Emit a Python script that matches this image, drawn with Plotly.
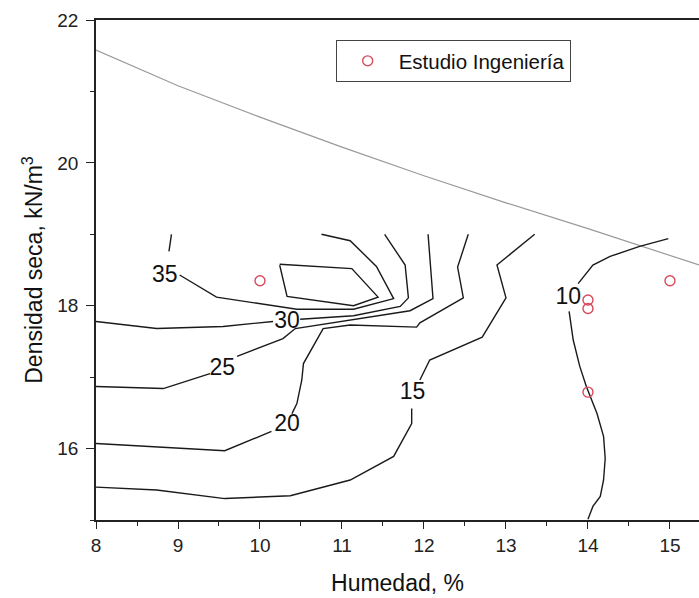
import plotly.graph_objects as go

# ---- data ----
sat_x = [8.0, 9.0, 10.0, 11.0, 12.0, 13.0, 14.0, 14.39, 15.354]
sat_y = [21.58, 21.08, 20.64, 20.22, 19.82, 19.44, 19.08, 18.93, 18.57]

c40_x = [10.24, 10.33, 11.14, 11.44, 11.12, 10.24]
c40_y = [18.57, 18.13, 18.00, 18.12, 18.52, 18.58]

c35_x = [8.92, 8.89, None, 9.02, 9.47, 10.45, 11.14, 11.63, 11.42, 11.10, 10.75]
c35_y = [19.00, 18.76, None, 18.43, 18.12, 17.95, 17.95, 18.10, 18.55, 18.91, 19.00]

c30_x = [8.0, 8.74, 9.55, 10.16, None, 10.49, 11.14, 11.71, 11.81, 11.77, 11.52]
c30_y = [17.78, 17.68, 17.71, 17.78, None, 17.81, 17.86, 17.99, 18.11, 18.57, 19.00]

c25_x = [8.0, 8.82, 9.39, None, 9.72, 10.28, 10.43, 11.10, 11.83, 12.11, 12.05]
c25_y = [16.87, 16.84, 17.05, None, 17.29, 17.54, 17.68, 17.80, 17.93, 18.10, 19.00]

c20_x = [12.54, 12.41, 12.48, 11.95, 11.91, 11.10, 10.77, 10.53, 10.51, 10.45, 10.39, None, 10.14, 9.57, 8.0]
c20_y = [19.00, 18.54, 18.11, 17.76, 17.70, 17.73, 17.68, 17.19, 16.96, 16.63, 16.49, None, 16.24, 15.97, 16.07]

c15_x = [13.35, 12.89, 13.00, 12.71, 12.07, 11.95, None, 11.85, 11.85, 11.63, 11.10, 10.37, 9.57, 8.74, 8.0]
c15_y = [19.00, 18.57, 18.11, 17.56, 17.24, 16.96, None, 16.56, 16.35, 15.89, 15.56, 15.34, 15.30, 15.42, 15.46]

c10_x = [14.98, 14.63, 14.27, 14.06, 13.88, None, 13.77, 13.82, 13.90, 13.98, 14.11, 14.19, 14.21, 14.19, 14.15, 14.06, 14.00]
c10_y = [18.94, 18.83, 18.69, 18.57, 18.31, None, 17.92, 17.52, 17.15, 16.87, 16.49, 16.17, 15.86, 15.56, 15.33, 15.19, 15.01]

label_text = ["35", "30", "25", "20", "15", "10"]
label_x = [8.84, 10.33, 9.54, 10.33, 11.86, 13.76]
label_y = [18.41, 17.77, 17.11, 16.33, 16.77, 18.10]

pts_x = [10, 14, 14, 14, 15]
pts_y = [18.35, 18.08, 17.96, 16.79, 18.35]

FONT = "Arial, Liberation Sans, sans-serif"
fig = go.Figure()

fig.add_trace(go.Scatter(x=sat_x, y=sat_y, mode="lines",
                         line=dict(color="#9a9a9a", width=1.2), showlegend=False,
                         hoverinfo="skip"))

for cx, cy in [(c40_x, c40_y), (c35_x, c35_y), (c30_x, c30_y), (c25_x, c25_y),
               (c20_x, c20_y), (c15_x, c15_y), (c10_x, c10_y)]:
    fig.add_trace(go.Scatter(x=cx, y=cy, mode="lines",
                             line=dict(color="#1a1a1a", width=1.4),
                             connectgaps=False, showlegend=False, hoverinfo="skip"))

fig.add_trace(go.Scatter(x=label_x, y=label_y, mode="text", text=label_text,
                         textfont=dict(family=FONT, size=23, color="#111111"),
                         showlegend=False, hoverinfo="skip"))

fig.add_trace(go.Scatter(x=pts_x, y=pts_y, mode="markers", name="Estudio Ingeniería",
                         marker=dict(symbol="circle-open", size=10,
                                     line=dict(color="#d84a5c", width=1.4),
                                     color="#d84a5c")))

fig.update_layout(
    width=699, height=598,
    margin=dict(l=96, r=0, t=20, b=78, autoexpand=False),
    paper_bgcolor="white", plot_bgcolor="white",
    font=dict(family=FONT, color="#222222"),
    showlegend=True,
    legend=dict(x=0.3975, y=0.96, xanchor="left", yanchor="top",
                bordercolor="#444444", borderwidth=1, bgcolor="white",
                font=dict(family=FONT, size=20.5, color="#111111"),
                itemwidth=52),
    xaxis=dict(range=[8, 15.354], tickmode="linear", tick0=8, dtick=1,
               ticks="outside", ticklen=7, tickwidth=1.3, tickcolor="#222",
               showline=True, linecolor="#222", linewidth=1.5, mirror=True,
               showgrid=False, zeroline=False,
               tickfont=dict(family=FONT, size=19, color="#222"),
               minor=dict(dtick=0.5, ticks="outside", ticklen=4, tickwidth=1.2,
                          tickcolor="#222", showgrid=False),
               title=dict(text="Humedad, %", font=dict(family=FONT, size=23, color="#111"),
                          standoff=20)),
    yaxis=dict(range=[15, 22], tickmode="linear", tick0=16, dtick=2,
               ticks="outside", ticklen=8, tickwidth=1.3, tickcolor="#222",
               showline=True, linecolor="#222", linewidth=1.5,
               showgrid=False, zeroline=False,
               tickfont=dict(family=FONT, size=19, color="#222"),
               ticklabelstandoff=4,
               minor=dict(dtick=1, ticks="outside", ticklen=4, tickwidth=1.2,
                          tickcolor="#222", showgrid=False),
               title=dict(text="Densidad seca, kN/m<sup>3</sup>",
                          font=dict(family=FONT, size=23, color="#111"),
                          standoff=8)),
)

fig.write_html("out.html", config={"displayModeBar": False},
               post_script="document.body.style.margin='0';")
